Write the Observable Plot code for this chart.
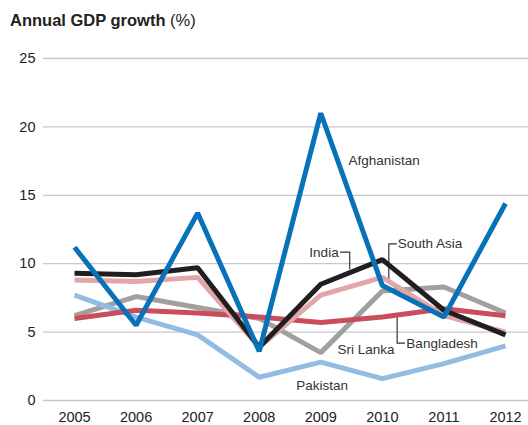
<!DOCTYPE html>
<html>
<head>
<meta charset="utf-8">
<script src="https://cdn.jsdelivr.net/npm/d3@7"></script>
<script src="https://cdn.jsdelivr.net/npm/@observablehq/plot@0.6"></script>
<style>
  body { margin: 0; background: #fff; font-family: "Liberation Sans", Arial, sans-serif; }
  #title { height: 40px; box-sizing: border-box; padding: 10px 0 0 10px; font-size: 16.5px; color: #222; line-height: 20px; }
  #title b { font-weight: bold; }
  svg { display: block; }
</style>
</head>
<body>
<div id="title"><b>Annual GDP growth</b> (%)</div>
<div id="chart"></div>
<script>
const years = [2005, 2006, 2007, 2008, 2009, 2010, 2011, 2012];
const yTicks = [0, 5, 10, 15, 20, 25];

const sriLanka    = [6.2, 7.6, 6.8, 6.0, 3.5, 8.0, 8.3, 6.4];
const pakistan    = [7.7, 6.1, 4.8, 1.7, 2.8, 1.6, 2.7, 4.0];
const bangladesh  = [6.0, 6.6, 6.4, 6.1, 5.7, 6.1, 6.7, 6.2];
const india       = [8.8, 8.7, 9.0, 3.9, 7.7, 9.0, 6.2, 5.0];
const southAsia   = [9.3, 9.2, 9.7, 3.9, 8.5, 10.3, 6.6, 4.8];
const afghanistan = [11.2, 5.5, 13.7, 3.6, 21.0, 8.4, 6.1, 14.4];

const seriesNames  = ["Sri Lanka", "Pakistan", "Bangladesh", "India", "South Asia", "Afghanistan"];
const seriesValues = [sriLanka, pakistan, bangladesh, india, southAsia, afghanistan];
const seriesColors = ["#a0a0a0", "#93bce4", "#c94d5d", "#e1a5aa", "#221e1f", "#0872b9"];

// label annotations in data units: [text, year, value, anchor]
const labels = [
  ["Afghanistan", 2009.45, 17.54, "start"],
  ["India", 2009.29, 10.84, "end"],
  ["South Asia", 2010.25, 11.45, "start"],
  ["Bangladesh", 2010.39, 4.19, "start"],
  ["Sri Lanka", 2009.27, 3.70, "start"],
  ["Pakistan", 2008.60, 1.10, "start"]
];
// leader lines in data units
const leaders = [
  {id: "India", pts: [[2009.32, 10.84], [2009.47, 10.84], [2009.47, 9.63]]},
  {id: "South Asia", pts: [[2010.23, 11.45], [2010.105, 11.45], [2010.105, 8.9]]},
  {id: "Bangladesh", pts: [[2010.24, 6.21], [2010.24, 4.19], [2010.36, 4.19]]}
];

const rows = [];
seriesNames.forEach((name, i) => {
  years.forEach((yr, j) => rows.push({series: name, year: yr, value: seriesValues[i][j]}));
});
const leaderRows = leaders.flatMap(l => l.pts.map(p => ({id: l.id, x: p[0], y: p[1]})));
const labelRows = labels.map(([text, x, y, anchor]) => ({text, x, y, anchor}));

const chart = Plot.plot({
  width: 528,
  height: 385,
  marginLeft: 74,
  marginRight: 23,
  marginTop: 18,
  marginBottom: 25,
  style: {fontFamily: "Liberation Sans, Arial, sans-serif", fontSize: "14.5px", color: "#222", background: "#fff"},
  x: {domain: [2005, 2012]},
  y: {domain: [0, 25]},
  color: {domain: seriesNames, range: seriesColors},
  marks: [
    Plot.ruleY(yTicks, {stroke: "#c8c8c8", strokeWidth: 1.3, insetLeft: -31, insetRight: -23}),
    Plot.axisY({ticks: yTicks, tickSize: 0, tickPadding: 39, label: null, fontSize: 14.5}),
    Plot.axisX({ticks: years, tickFormat: d => String(d), tickSize: 0, tickPadding: 11, label: null, fontSize: 14.5}),
    Plot.line(leaderRows, {x: "x", y: "y", z: "id", stroke: "#333", strokeWidth: 1.2}),
    Plot.line(rows, {x: "year", y: "value", z: "series", stroke: "series", strokeWidth: 5, strokeLinejoin: "miter", strokeLinecap: "butt"}),
    Plot.text(labelRows.filter(d => d.anchor === "start"), {x: "x", y: "y", text: "text", textAnchor: "start", fontSize: 13.5, fill: "#333"}),
    Plot.text(labelRows.filter(d => d.anchor === "end"), {x: "x", y: "y", text: "text", textAnchor: "end", fontSize: 13.5, fill: "#333"})
  ]
});
document.getElementById("chart").appendChild(chart);
</script>
</body>
</html>
